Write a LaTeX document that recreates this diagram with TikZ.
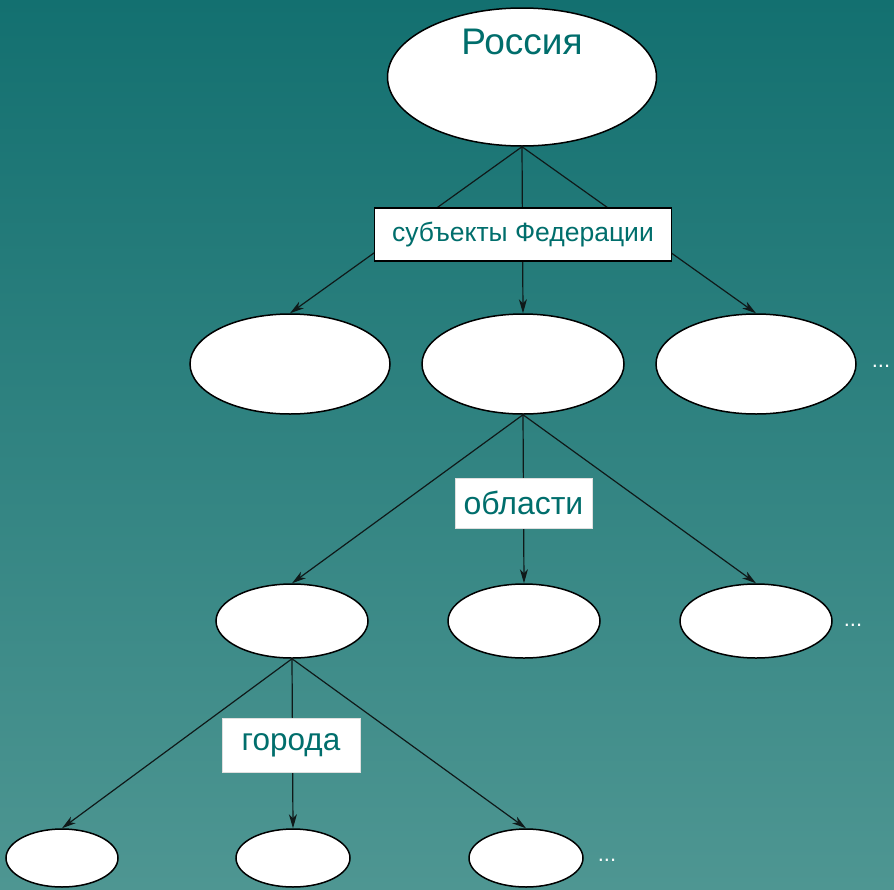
\documentclass[tikz,border=0pt]{standalone}
\usepackage{fontspec}
\setmainfont{Liberation Sans}
\usetikzlibrary{shapes.geometric,arrows.meta}
\definecolor{bgtop}{RGB}{19,112,112}
\definecolor{bgbot}{RGB}{78,150,146}
\definecolor{tealtxt}{RGB}{0,110,108}
\definecolor{edgec}{RGB}{15,25,25}
\begin{document}
\begin{tikzpicture}[x=1pt,y=-1pt,
  oval/.style={ellipse, draw=black, line width=1.5pt, fill=white, inner sep=0pt},
  lbl/.style={fill=white, text=tealtxt, inner sep=0pt},
  conn/.style={draw=edgec, line width=1.2pt, -{Stealth[length=14pt,width=8pt,inset=4pt]}},
  dotsty/.style={text=white, font=\fontsize{22}{24}\selectfont, inner sep=0pt, anchor=base}]
\shade[top color=bgtop,bottom color=bgbot] (0,0) rectangle (894,889);
\useasboundingbox (0,0) rectangle (894,889);
% ellipses
\node[oval, minimum width=269, minimum height=138] (r) at (522,77) {};
\node[text=tealtxt, font=\fontsize{37}{42}\selectfont, inner sep=0pt] (rt) at (522,42) {Россия};
\node[oval, minimum width=200, minimum height=100] (a1) at (290,364) {};
\node[oval, minimum width=202, minimum height=100] (a2) at (523,364) {};
\node[oval, minimum width=200, minimum height=100] (a3) at (756,364) {};
\node[oval, minimum width=152, minimum height=74] (b1) at (292,621) {};
\node[oval, minimum width=152, minimum height=74] (b2) at (524,621) {};
\node[oval, minimum width=152, minimum height=74] (b3) at (756,621) {};
\node[oval, minimum width=112, minimum height=58] (c1) at (62,858) {};
\node[oval, minimum width=114, minimum height=58] (c2) at (293,858) {};
\node[oval, minimum width=114, minimum height=58] (c3) at (526,858) {};
% connectors
\draw[conn] (r.south) -- (a1.north);
\draw[conn] (r.south) -- (a2.north);
\draw[conn] (r.south) -- (a3.north);
\draw[conn] (a2.south) -- (b1.north);
\draw[conn] (a2.south) -- (b2.north);
\draw[conn] (a2.south) -- (b3.north);
\draw[conn] (b1.south) -- (c1.north);
\draw[conn] (b1.south) -- (c2.north);
\draw[conn] (b1.south) -- (c3.north);
% labels
\node[lbl, draw=black, line width=1.5pt, minimum width=297, minimum height=53,
  font=\fontsize{26.5}{30}\selectfont] (l1) at (523,234.5) {субъекты Федерации};
\node[lbl, draw=gray!25, line width=0.8pt, minimum width=137, minimum height=50,
  font=\fontsize{32}{36}\selectfont] (l2) at (523.5,503) {области};
\node[lbl, draw=gray!25, line width=0.8pt, minimum width=138, minimum height=54,
  font=\fontsize{31.5}{36}\selectfont] (l3) at (291,745) {города};
% dots
\node[dotsty] (d1) at (881,367) {...};
\node[dotsty] (d2) at (853,626) {...};
\node[dotsty] (d3) at (607,861) {...};
\end{tikzpicture}
\end{document}
